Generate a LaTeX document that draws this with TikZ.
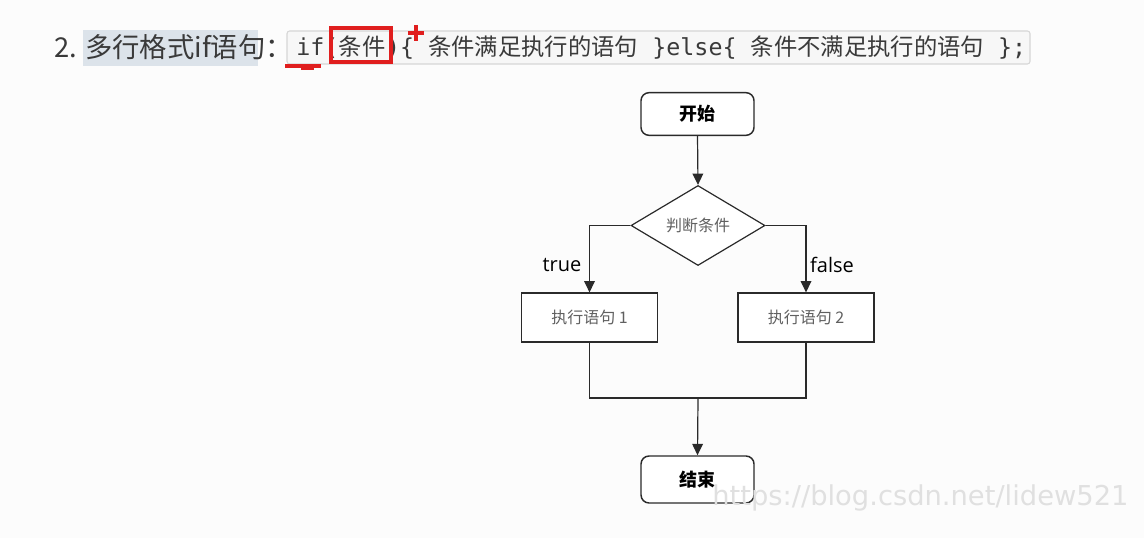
\documentclass[tikz,border=0pt]{standalone}
\usepackage{fontspec}
\setmainfont{Noto Sans CJK SC}
\newfontfamily\cjk{Noto Sans CJK SC}
\newfontfamily\mono{DejaVu Sans Mono}
\newfontfamily\lat{Open Sans}
\newfontfamily\wmfont{DejaVu Sans}
\usetikzlibrary{shapes.geometric,arrows.meta}
\definecolor{bgc}{HTML}{FCFCFC}
\definecolor{hl}{HTML}{DCE3EA}
\definecolor{codebg}{HTML}{F7F7F7}
\definecolor{codeline}{HTML}{D6D6D6}
\definecolor{txt}{HTML}{3A3A3A}
\definecolor{redc}{HTML}{E01E1E}
\definecolor{flow}{HTML}{2A2A2A}
\definecolor{soft}{HTML}{606060}
\definecolor{wm}{HTML}{E0E0E0}
\tikzset{
  px/.style={x=0.75pt,y=-0.75pt},
  term/.style={draw=flow,line width=1.1pt,rounded corners=6pt,minimum width=84.75pt,minimum height=32pt,inner sep=0pt,fill=white,font=\cjk\fontsize{13.5}{14}\selectfont\bfseries,text=black},
  procbox/.style={draw=flow,line width=0.9pt,minimum width=101.5pt,minimum height=36.75pt,inner sep=0pt,fill=white,font=\cjk\fontsize{12}{13}\selectfont,text=soft},
  decide/.style={diamond,draw=flow,line width=0.9pt,minimum width=100.5pt,minimum height=60pt,inner sep=0pt,aspect=1.675,fill=white,font=\cjk\fontsize{12}{13}\selectfont,text=soft},
  conn/.style={draw=flow,line width=0.9pt},
  arr/.style={conn,-{Triangle[length=8.5pt,width=8pt]}},
  lab/.style={font=\lat\fontsize{15}{16}\selectfont,text=black,inner sep=0pt},
  codepiece/.style={anchor=base west,inner sep=0pt,text=txt,font=\fontsize{17.5}{18}\selectfont},
  redmark/.style={draw=redc,line width=2.4pt}
}
\begin{document}
\begin{tikzpicture}[px]
\useasboundingbox[fill=bgc] (0,0) rectangle (1144,538);
% title
\fill[hl] (83,30) rectangle (258,66);
\node[anchor=west,inner sep=0pt,text=txt,font=\cjk\fontsize{20.5}{21}\selectfont] (title) at (54,47) {2. 多行格式if语句：};
% code box
\draw[fill=codebg,draw=codeline,line width=0.8pt,rounded corners=2pt] (287,31) rectangle (1030,64);
\node[codepiece] (c1) at (296,56) {\mono if(};
\node[codepiece] (c2) at (c1.base east) {\cjk 条件};
\node[codepiece] (c3) at (c2.base east) {{\mono )\{ }{\cjk 条件满足执行的语句}{\mono\ \}else\{ }{\cjk 条件不满足执行的语句}{\mono\ \};}};
% red annotations
\draw[redmark] (331,28) rectangle (391,62);
\draw[redmark] (408,33) -- (424,33);
\draw[redmark] (416,25) -- (416,41);
\draw[redmark] (285,66) -- (321,66);
\draw[redmark] (301,68.5) -- (314,68.5);
% flowchart
\node[term] (start) at (697.5,114) {开始};
\node[decide] (cond) at (698,225.5) {判断条件};
\node[procbox] (p1) at (589.5,317.5) {执行语句 1};
\node[procbox,minimum width=102pt] (p2) at (806,317.5) {执行语句 2};
\node[term,minimum height=35.25pt] (stop) at (697.5,479.5) {结束};
\coordinate (j) at (698,398);
\draw[arr] (start.south) -- (cond.north);
\draw[arr] (cond.west) -| (p1.north);
\draw[arr] (cond.east) -| (p2.north);
\draw[conn] (p1.south) |- (j) -| (p2.south);
\draw[arr] (j) -- (stop.north);
\node[lab] (ltrue) at (562,265) {true};
\node[lab] (lfalse) at (832,265) {false};
% watermark
\node[anchor=base west,inner sep=0pt,text=wm,font=\wmfont\fontsize{20.5}{21}\selectfont] (wmark) at (712,505) {https://blog.csdn.net/lidew521};
\end{tikzpicture}
\end{document}
